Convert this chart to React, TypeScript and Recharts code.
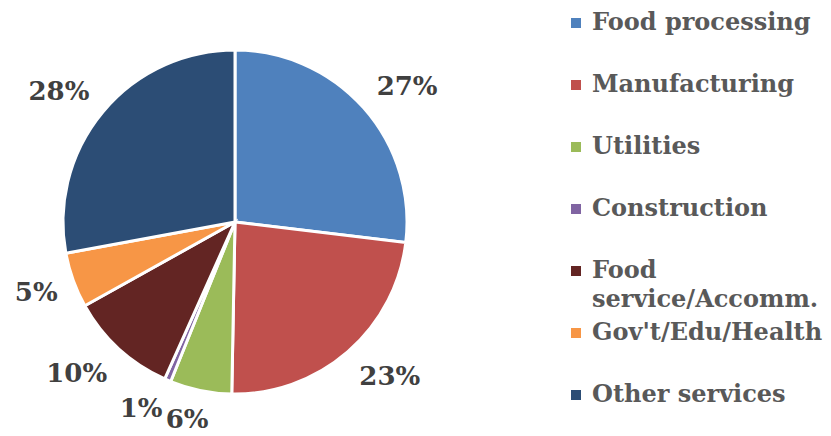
import React from 'react';
import { PieChart, Pie, Cell, Legend } from 'recharts';

// Sector shares (percent of total)
const sectors = [
  'Food processing',
  'Manufacturing',
  'Utilities',
  'Construction',
  'Food service/Accomm.',
  "Gov't/Edu/Health",
  'Other services'
];
const shares = [26.9, 23.4, 5.8, 0.6, 10.2, 5.2, 27.9];
const colors = ['#4F81BD', '#C0504D', '#9BBB59', '#8064A2', '#632523', '#F79646', '#2C4D75'];

const data = sectors.map((name, i) => ({ name, value: shares[i] }));

const FONT = '"DejaVu Serif", serif';
const RAD = Math.PI / 180;

const clamp = (v: number) => Math.max(-1, Math.min(1, v));

// label box sits just outside the slice, its nearest corner on the anchor point
const renderLabel = (props: any) => {
  const { cx, cy, midAngle, outerRadius, percent } = props;
  const text = `${Math.round(percent * 100)}%`;
  const w = text.length * 20;
  const h = 22;
  const ux = Math.cos(-midAngle * RAD);
  const uy = Math.sin(-midAngle * RAD);
  const r = outerRadius + 18;
  const x = cx + r * ux + (w / 2) * clamp(ux * 2.5);
  let y = cy + r * uy + (h / 2) * clamp(uy * 1.4);
  if (y > 420) y = 420;
  return (
    <text
      x={x}
      y={y}
      textAnchor="middle"
      dominantBaseline="central"
      fill="#404040"
      fontFamily={FONT}
      fontWeight="bold"
      fontSize={26}
    >
      {text}
    </text>
  );
};

// legend drawn in the original series order
const renderLegend = () => (
  <div style={{ fontFamily: FONT, fontWeight: 'bold', fontSize: 24, color: '#595959' }}>
    {sectors.map((name, i) => (
      <div key={name} style={{ position: 'relative', height: 62 }}>
        <span
          style={{
            position: 'absolute',
            left: 0,
            top: 18,
            width: 10,
            height: 10,
            background: colors[i]
          }}
        />
        <div style={{ position: 'absolute', left: 21, top: 7, width: 240, lineHeight: '29px' }}>
          {name}
        </div>
      </div>
    ))}
  </div>
);

export default function App() {
  return (
    <div style={{ position: 'absolute', left: 0, top: 0, background: '#fff' }}>
      <PieChart width={831} height={436} margin={{ top: 0, right: 0, bottom: 0, left: 0 }}>
        <Pie
          data={data}
          dataKey="value"
          nameKey="name"
          cx={235}
          cy={222}
          outerRadius={172}
          startAngle={90}
          endAngle={-270}
          stroke="#fff"
          strokeWidth={3}
          label={renderLabel}
          labelLine={false}
          isAnimationActive={false}
        >
          {data.map((d, i) => (
            <Cell key={d.name} fill={colors[i]} />
          ))}
        </Pie>
        <Legend
          layout="vertical"
          align="right"
          verticalAlign="top"
          content={renderLegend}
          wrapperStyle={{ left: 571, top: 0, width: 260 }}
        />
      </PieChart>
    </div>
  );
}
